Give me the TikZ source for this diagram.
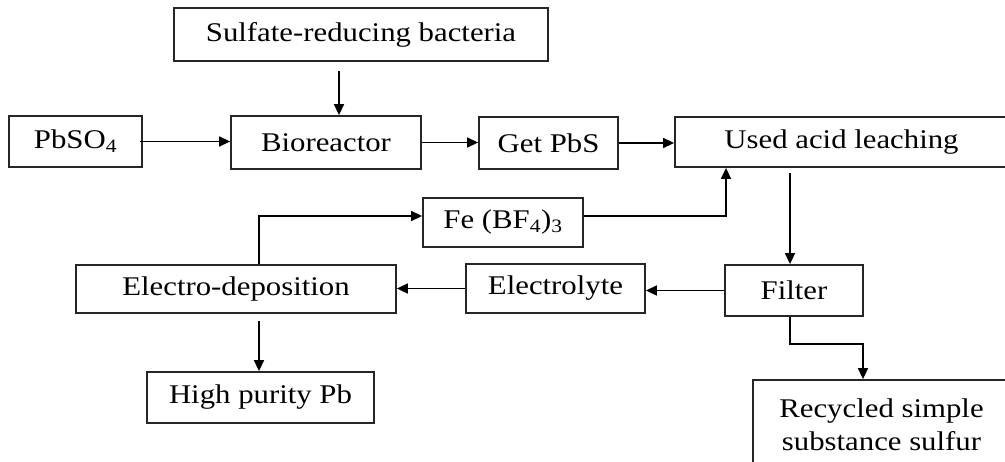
\documentclass[tikz,border=0pt]{standalone}
\usepackage{fontspec}
\setmainfont[FakeStretch=1.14]{Liberation Serif}
\usetikzlibrary{arrows.meta,calc}
\begin{document}
\begin{tikzpicture}[x=1pt,y=-1pt,
  box/.style={draw=black!85,line width=1.8pt,rectangle,inner sep=0pt,align=center,
    font=\fontsize{27}{33}\selectfont},
  arr/.style={draw=black,line width=1.5pt,-{Triangle[length=11pt,width=10pt]}}]
\useasboundingbox (0,0) rectangle (1005,461);
\clip (0,0) rectangle (1005,461);
\fill[white] (0,0) rectangle (1005,461);
\node[box,minimum width=374pt,minimum height=53pt] (sulf) at (361,34.5) {Sulfate-reducing bacteria};
\node[box,minimum width=133pt,minimum height=51pt] (pbso4) at (75.5,141.5) {PbSO\textsubscript{4}};
\node[box,minimum width=190pt,minimum height=53pt] (bio) at (326,142.5) {Bioreactor};
\node[box,minimum width=139pt,minimum height=52pt] (getpbs) at (548.5,143) {Get PbS};
\node[box,minimum width=333pt,minimum height=50pt] (used) at (841.5,142) {Used acid leaching};
\node[box,minimum width=160pt,minimum height=49pt] (fe) at (503,222.5) {Fe (BF\textsubscript{4})\textsubscript{3}};
\node[box,minimum width=320pt,minimum height=48pt] (electro) at (236,289) {Electro-deposition};
\node[box,minimum width=179pt,minimum height=49pt] (electrolyte) at (555.5,288.5) {Electrolyte};
\node[box,minimum width=138pt,minimum height=51pt] (filter) at (794,290.5) {Filter};
\node[box,minimum width=227pt,minimum height=51pt] (high) at (260.5,397.5) {High purity Pb};
\node[box,minimum width=257pt,minimum height=90pt] (recycled) at (881.5,425) {Recycled simple\\substance sulfur};
% connectors
\draw[arr] ($(bio.north)+(13,-44)$) -- ($(bio.north)+(13,0)$);
\draw[arr] ($(pbso4.east)+(-3,0)$) -- (pbso4.east -| bio.west);
\draw[arr] (bio.east) -- (bio.east -| getpbs.west);
\draw[arr] (getpbs.east) -- (getpbs.east -| used.west);
\draw[arr] ($(electro.north)+(23,0)$) |- ($(fe.west)+(0,-6.5)$);
\draw[arr] ($(fe.east)+(0,-6.5)$) -| ($(used.south)+(-115.5,0)$);
\draw[arr] ($(filter.north |- used.south)+(-4,5)$) -- ($(filter.north)+(-4,0)$);
\draw[arr] (filter.west) -- (filter.west -| electrolyte.east);
\draw[arr] (electrolyte.west) -- (electrolyte.west -| electro.east);
\draw[arr] ($(high.north |- electro.south)+(-1.5,7)$) -- ($(high.north)+(-1.5,0)$);
\coordinate (fr) at ($(recycled.north)+(-18.5,0)$);
\draw[arr] ($(filter.south)+(-4,0)$) |- ($(fr)+(0,-35)$) -- (fr);
\end{tikzpicture}
\end{document}
